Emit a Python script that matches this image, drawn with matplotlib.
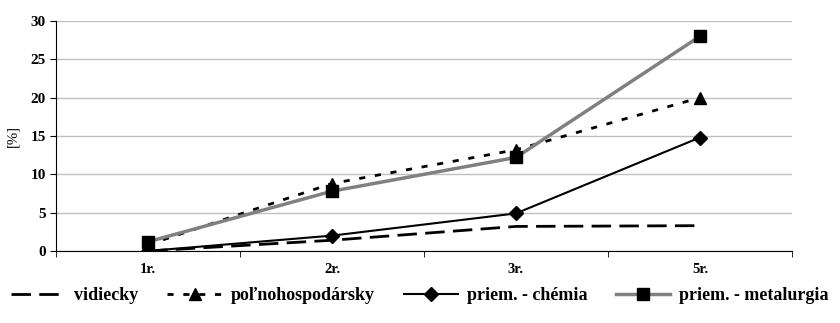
import matplotlib.pyplot as plt

kategorie = ['1r.', '2r.', '3r.', '5r.']
vidiecky = [0.0, 1.4, 3.2, 3.3]
polnohosp = [0.8, 8.8, 13.2, 20.0]
chemia = [0.0, 2.0, 4.9, 14.8]
metalurgia = [1.2, 7.8, 12.2, 28.0]

plt.rcParams['font.family'] = 'Liberation Serif'
plt.rcParams['font.weight'] = 'bold'

fig = plt.figure(figsize=(8.4, 3.23), dpi=100)
ax = fig.add_axes([0.0667, 0.223, 0.876, 0.712])

x = range(len(kategorie))
ax.plot(x, vidiecky, color='black', lw=2, dashes=(7, 3), label='vidiecky')
ax.plot(x, polnohosp, color='black', lw=2, dashes=(2.2, 3.5), marker='^', ms=9,
        label='poľnohospodársky')
ax.plot(x, chemia, color='black', lw=1.5, marker='D', ms=7, label='priem. - chémia')
ax.plot(x, metalurgia, color='#808080', lw=2.5, marker='s', ms=9, mfc='black', mec='black',
        label='priem. - metalurgia')

ax.set_xlim(-0.5, 3.5)
ax.set_ylim(0, 30)
ax.set_yticks(range(0, 31, 5))
ax.set_xticks(x)
ax.set_xticklabels(kategorie)
ax.set_xticks([-0.5, 0.5, 1.5, 2.5, 3.5], minor=True)
ax.tick_params(axis='x', which='major', length=0, pad=9, labelsize=10.5)
ax.tick_params(axis='x', which='minor', length=4)
ax.tick_params(axis='y', length=4, labelsize=11)
ax.yaxis.grid(True, color='#c0c0c0', lw=1)
ax.set_axisbelow(True)
for s in ['top', 'right']:
    ax.spines[s].set_visible(False)
ax.set_ylabel('[%]', fontsize=10.5, labelpad=8)

fig.legend(loc='center', bbox_to_anchor=(0.5, 0.084), ncol=4, frameon=False,
           handlelength=3.0, columnspacing=1.6, handletextpad=0.5,
           prop={'weight': 'bold', 'size': 13})

fig.savefig('out.png', dpi=100)
